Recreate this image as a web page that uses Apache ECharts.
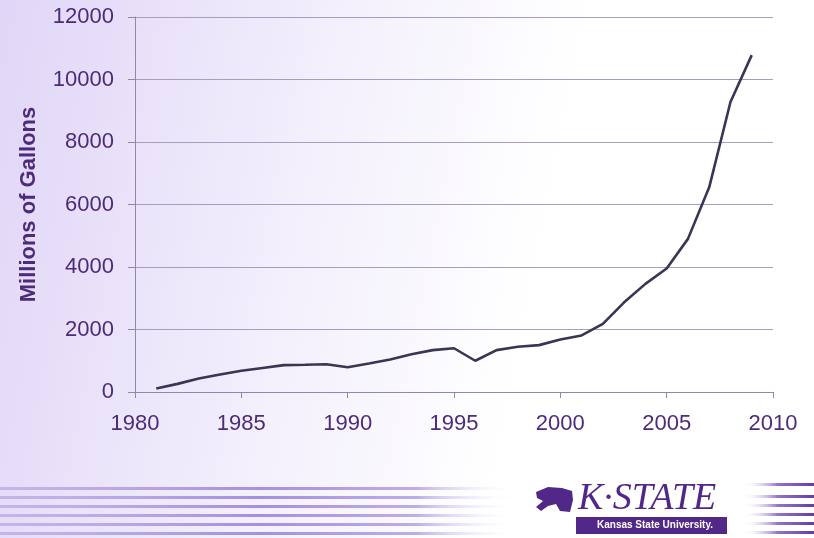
<!DOCTYPE html>
<html><head><meta charset="utf-8">
<script src="https://cdn.jsdelivr.net/npm/echarts@6/dist/echarts.min.js"></script>
<style>html,body{margin:0;padding:0;}#c{width:814px;height:538px;}</style>
</head><body><div id="c"></div>
<script>
const years = [1981,1982,1983,1984,1985,1986,1987,1988,1989,1990,1991,1992,1993,1994,1995,1996,1997,1998,1999,2000,2001,2002,2003,2004,2005,2006,2007,2008,2009];
const gallons = [110,260,430,560,680,770,860,870,890,790,910,1040,1210,1340,1400,1000,1340,1450,1500,1680,1810,2180,2870,3460,3950,4900,6550,9280,10780];
const yTicks = [0,2000,4000,6000,8000,10000,12000];
const xTicks = [1980,1985,1990,1995,2000,2005,2010];

const chart = echarts.init(document.getElementById('c'));
const purple = '#4e2a7a';
const font = '"Liberation Sans", Arial, sans-serif';
const stripes = [];
[488,497,506,515,524,533].forEach((y)=>{
  stripes.push({type:'rect', shape:{x:0,y:y-1,width:520,height:3}, silent:true, z:-5,
    style:{fill:new echarts.graphic.LinearGradient(0,0,1,0,[{offset:0,color:'rgba(160,130,220,0.45)'},{offset:0.5,color:'rgba(140,110,215,0.75)'},{offset:0.8,color:'rgba(150,120,220,0.6)'},{offset:1,color:'rgba(255,255,255,0)'}])}});
});
[484,496,505,514,523,532].forEach((y)=>{
  stripes.push({type:'rect', shape:{x:742,y:y-1,width:72,height:3}, silent:true, z:-5,
    style:{fill:new echarts.graphic.LinearGradient(0,0,1,0,[{offset:0,color:'rgba(255,255,255,0)'},{offset:0.5,color:'rgba(120,80,190,0.8)'},{offset:1,color:'rgba(90,50,160,0.95)'}])}});
});
chart.setOption({
  animation:false,
  backgroundColor:'#ffffff',
  graphic:[
    {type:'rect', shape:{x:0,y:0,width:814,height:538}, silent:true, z:-10,
     style:{fill:new echarts.graphic.LinearGradient(0,0,1,0.3,[{offset:0,color:'#e0d6f7'},{offset:0.4,color:'#f3effc'},{offset:0.7,color:'#ffffff'},{offset:1,color:'#ffffff'}])}},
    ...stripes,
    {type:'polygon', silent:true, shape:{points:[[536,492],[548,487],[562,488],[572,491],[573,500],[570,512],[560,511],[556,504],[548,506],[541,511],[536,507],[543,501],[537,498]]}, style:{fill:'#512888'}},
    {type:'text', left:578, top:480, silent:true, style:{text:'K·STATE', fill:'#512888', font:'italic 38px "Liberation Serif", serif'}},
    {type:'rect', shape:{x:576,y:517,width:151,height:17}, silent:true, style:{fill:'#512888'}},
    {type:'text', left:597, top:520, silent:true, style:{text:'Kansas State University.', fill:'#ffffff', font:'bold 10px "Liberation Sans", sans-serif'}}
  ],
  grid:{left:135, right:41, top:17, bottom:146},
  xAxis:{type:'value', min:1980, max:2010, interval:5,
    axisLine:{show:true, lineStyle:{color:'#9585ad', width:1}},
    axisTick:{show:true, length:6, lineStyle:{color:'#9585ad'}},
    splitLine:{show:false},
    axisLabel:{color:purple, fontSize:22, fontFamily:font, margin:21, formatter:v=>String(v)}},
  yAxis:{type:'value', min:0, max:12000, interval:2000,
    name:'Millions of Gallons', nameLocation:'middle', nameGap:95, nameRotate:90,
    nameTextStyle:{color:purple, fontSize:22, fontWeight:'bold', fontFamily:font},
    axisLine:{show:true, lineStyle:{color:'#9585ad', width:1}},
    axisTick:{show:true, length:7, lineStyle:{color:'#9585ad'}},
    splitLine:{show:true, lineStyle:{color:'#a99dbf', width:1}},
    axisLabel:{color:purple, fontSize:22, fontFamily:font, margin:21, formatter:v=>String(v)}},
  series:[{type:'line', data:years.map((y,i)=>[y,gallons[i]]), symbol:'none',
    lineStyle:{color:'#3b3452', width:2.6}}]
});
</script></body></html>
